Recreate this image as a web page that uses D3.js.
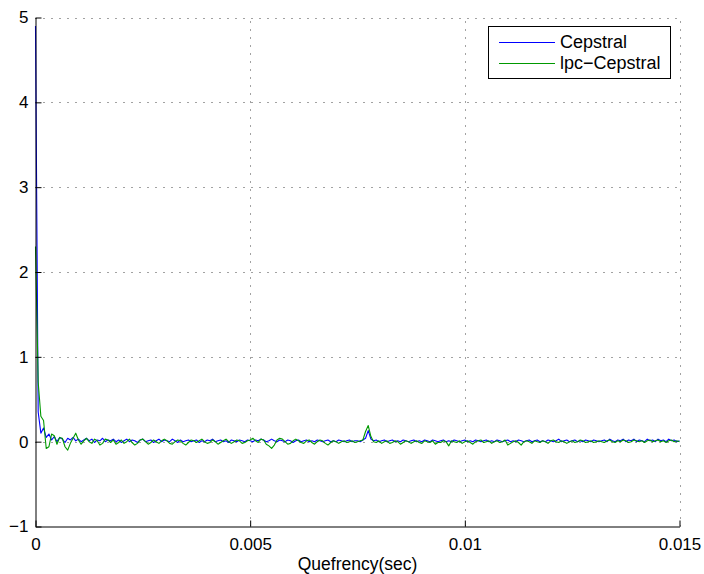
<!DOCTYPE html>
<html>
<head>
<meta charset="utf-8">
<script src="https://cdn.jsdelivr.net/npm/d3@7"></script>
<style>
  html, body { margin: 0; padding: 0; background: #fff; }
  svg { display: block; font-family: "Liberation Sans", Arial, Helvetica, sans-serif; }
</style>
</head>
<body>
<svg id="chart" width="704" height="574"></svg>
<script>
// Real cepstrum vs. LPC-derived cepstrum of a speech frame (fs = 16 kHz)
const sampleRate = 16000;

const cepstral = [
  4.90, 0.35, 0.10, 0.16, 0.05, 0.09, 0.02, 0.06, 0.00, 0.05,
  0.03, -0.01, 0.04, 0.02, 0.05, 0.01, 0.03, 0.00, 0.02, 0.04,
  0.01, 0.03, -0.01, 0.02, 0.01, 0.04, 0.00, 0.02, 0.01, 0.03,
  0.00, 0.02, -0.01, 0.01, 0.03, 0.00, 0.02, 0.01, -0.01, 0.02,
  0.03, 0.00, 0.01, 0.02, -0.01, 0.01, 0.03, 0.00, 0.02, 0.01,
  0.00, 0.03, 0.01, -0.01, 0.02, 0.00, 0.01, 0.02, 0.00, 0.01,
  0.02, -0.01, 0.01, 0.00, 0.02, 0.01, 0.03, 0.00, 0.01, 0.02,
  0.00, 0.01, -0.01, 0.02, 0.01, 0.00, 0.02, 0.01, 0.00, 0.02,
  0.01, 0.00, 0.02, 0.01, 0.03, 0.02, 0.00, 0.01, 0.03, 0.01,
  0.00, 0.02, 0.01, 0.00, 0.02, 0.01, -0.01, 0.01, 0.02, 0.00,
  0.01, 0.02, 0.00, 0.01, 0.00, 0.02, 0.01, 0.00, 0.01, 0.02,
  0.00, 0.01, 0.00, 0.02, 0.01, 0.00, 0.01, 0.02, 0.00, 0.01,
  0.01, 0.00, 0.02, 0.04, 0.13, 0.03, 0.01, 0.02, 0.00, 0.01,
  0.02, 0.00, 0.01, 0.02, 0.00, 0.01, 0.00, 0.02, 0.01, 0.00,
  0.01, 0.02, 0.00, 0.01, 0.00, 0.02, 0.01, 0.00, 0.02, 0.01,
  0.00, 0.01, 0.02, 0.00, 0.01, 0.00, 0.02, 0.01, 0.00, 0.01,
  0.02, 0.00, 0.01, 0.00, 0.02, 0.01, 0.00, 0.01, 0.02, 0.00,
  0.01, 0.00, 0.02, 0.01, 0.00, 0.01, 0.02, 0.00, 0.01, 0.00,
  0.02, 0.01, 0.00, 0.01, 0.02, 0.00, 0.01, 0.02, 0.00, 0.01,
  0.00, 0.02, 0.01, 0.00, 0.01, 0.03, 0.00, 0.01, 0.02, 0.00,
  0.01, 0.02, 0.00, 0.01, 0.00, 0.02, 0.01, 0.00, 0.02, 0.01,
  0.00, 0.01, 0.02, 0.00, 0.03, 0.01, 0.00, 0.02, 0.01, 0.03,
  0.00, 0.02, 0.01, 0.03, 0.00, 0.02, 0.01, 0.00, 0.03, 0.01,
  0.02, 0.00, 0.03, 0.01, 0.02, 0.00, 0.03, 0.01, 0.02, 0.00,
  0.01
];

const lpcCepstral = [
  2.30, 0.70, 0.30, 0.25, -0.08, -0.06, 0.09, 0.07, -0.03, 0.05,
  0.04, -0.06, -0.10, -0.02, 0.04, 0.10, 0.02, -0.03, 0.01, 0.04,
  0.00, -0.02, 0.03, 0.01, -0.04, -0.02, 0.03, 0.02, -0.01, 0.02,
  -0.03, -0.01, 0.02, -0.02, 0.00, 0.03, -0.01, -0.04, -0.02, 0.02,
  0.03, 0.00, -0.03, -0.01, 0.02, 0.00, -0.02, 0.01, 0.03, 0.01,
  -0.02, -0.03, 0.00, 0.02, 0.01, -0.02, -0.04, -0.01, 0.02, 0.01,
  -0.01, 0.01, 0.03, 0.00, -0.02, -0.01, 0.02, 0.00, -0.03, -0.01,
  0.01, 0.03, 0.00, -0.02, 0.00, 0.02, 0.01, -0.02, -0.01, 0.01,
  0.02, 0.04, 0.01, -0.01, 0.03, 0.02, -0.03, -0.05, -0.08, -0.04,
  0.02, 0.04, 0.03, 0.00, -0.03, -0.02, 0.01, 0.03, 0.01, -0.01,
  -0.02, 0.01, 0.02, -0.01, -0.03, 0.00, 0.02, 0.01, -0.02, -0.04,
  -0.01, 0.01, 0.00, -0.02, 0.00, 0.01, -0.01, 0.00, 0.01, -0.01,
  0.00, 0.01, 0.02, 0.12, 0.19, 0.06, 0.00, -0.01, 0.01, -0.02,
  0.00, 0.01, -0.02, -0.01, 0.01, 0.00, -0.03, -0.01, 0.01, 0.00,
  -0.02, 0.00, 0.01, -0.01, -0.02, 0.01, 0.00, -0.01, 0.01, -0.03,
  -0.01, -0.01, 0.01, 0.00, -0.05, 0.01, 0.00, -0.01, 0.01, -0.02,
  0.00, 0.01, -0.01, -0.03, 0.00, 0.01, 0.02, -0.01, 0.00, 0.01,
  -0.02, 0.00, 0.01, -0.01, 0.00, 0.02, -0.04, -0.02, 0.00, 0.01,
  -0.01, -0.04, 0.00, 0.01, 0.00, -0.02, 0.01, 0.00, -0.01, 0.01,
  0.00, -0.02, 0.01, 0.02, 0.00, -0.01, 0.01, 0.00, -0.02, 0.00,
  0.01, -0.01, 0.00, 0.02, 0.01, -0.01, 0.00, 0.01, -0.01, 0.00,
  0.01, 0.00, -0.01, 0.01, 0.02, 0.00, -0.01, 0.01, 0.00, 0.02,
  0.01, -0.01, 0.00, 0.02, 0.01, 0.00, 0.01, -0.01, 0.01, 0.02,
  0.00, 0.01, 0.02, 0.00, 0.01, -0.01, 0.01, 0.02, 0.00, 0.01,
  0.00
];

const xTicks = [0, 0.005, 0.01, 0.015];
const xTickLabels = ["0", "0.005", "0.01", "0.015"];
const yTicks = [-1, 0, 1, 2, 3, 4, 5];
const yTickLabels = ["\u22121", "0", "1", "2", "3", "4", "5"];
const seriesNames = ["Cepstral", "lpc\u2212Cepstral"];
const seriesColors = ["#0000ff", "#009900"];
const xLabel = "Quefrency(sec)";

const margin = { left: 35.5, top: 17.5, right: 679.5, bottom: 526.5 };
const svg = d3.select("#chart");

const x = d3.scaleLinear().domain([0, 0.015]).range([margin.left, margin.right]);
const y = d3.scaleLinear().domain([-1, 5]).range([margin.bottom, margin.top]);

// dotted grid
const grid = svg.append("g").attr("stroke", "#444").attr("stroke-width", 1)
  .attr("stroke-dasharray", "1,7");
grid.selectAll("line.gx").data(xTicks.slice(1)).join("line")
  .attr("x1", d => Math.round(x(d)) + 0.5).attr("x2", d => Math.round(x(d)) + 0.5)
  .attr("y1", margin.bottom).attr("y2", margin.top);
grid.selectAll("line.gy").data(yTicks.slice(1)).join("line")
  .attr("y1", d => Math.round(y(d)) + 0.5).attr("y2", d => Math.round(y(d)) + 0.5)
  .attr("x1", margin.left).attr("x2", margin.right);

// data lines
const series = [cepstral, lpcCepstral];
const line = d3.line().x((d, i) => x(i / sampleRate)).y(d => y(d));
svg.append("g").selectAll("path").data(series).join("path")
  .attr("d", d => line(d))
  .attr("fill", "none")
  .attr("stroke", (d, i) => seriesColors[i])
  .attr("stroke-width", 1.1)
  .attr("stroke-linejoin", "round");

// axes with inward ticks
const xAxis = d3.axisBottom(x).tickValues(xTicks)
  .tickFormat((d, i) => xTickLabels[i]).tickSizeInner(-6).tickSizeOuter(0).tickPadding(11);
const yAxis = d3.axisLeft(y).tickValues(yTicks)
  .tickFormat((d, i) => yTickLabels[i]).tickSizeInner(-6).tickSizeOuter(0).tickPadding(7);

const gx = svg.append("g").attr("transform", `translate(0,${margin.bottom})`).call(xAxis);
const gy = svg.append("g").attr("transform", `translate(${margin.left},0)`).call(yAxis);
[gx, gy].forEach(g => {
  g.select(".domain").attr("stroke", "#000").attr("stroke-width", 1);
  g.selectAll(".tick line").attr("stroke", "#000");
  g.selectAll(".tick text").attr("fill", "#000")
    .style("font-family", "'Liberation Sans', Arial, sans-serif").style("font-size", "17px");
});

svg.append("text")
  .attr("x", (margin.left + margin.right) / 2).attr("y", 570)
  .attr("text-anchor", "middle").attr("fill", "#000")
  .style("font-size", "17.5px")
  .text(xLabel);

// legend
const lg = svg.append("g");
lg.append("rect").attr("x", 488.5).attr("y", 26.5).attr("width", 182).attr("height", 52)
  .attr("fill", "#fff").attr("stroke", "#000").attr("stroke-width", 1);
seriesNames.forEach((name, i) => {
  const yy = 42 + i * 21;
  lg.append("line").attr("x1", 499).attr("x2", 555).attr("y1", yy + 0.5).attr("y2", yy + 0.5)
    .attr("stroke", seriesColors[i]).attr("stroke-width", 1);
  lg.append("text").attr("x", 560).attr("y", yy + 6).attr("fill", "#000")
    .style("font-size", "18px")
    .text(name);
});
</script>
</body>
</html>
